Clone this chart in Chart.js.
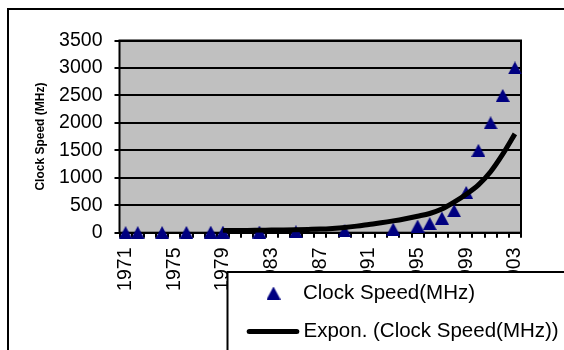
<!DOCTYPE html>
<html>
<head>
<meta charset="utf-8">
<script src="https://cdn.jsdelivr.net/npm/chart.js@4/dist/chart.umd.min.js"></script>
<style>
  html, body { margin: 0; padding: 0; background: #fff; }
  canvas { display: block; }
</style>
</head>
<body>
<canvas id="c" width="564" height="350"></canvas>
<script>
// Years on the category axis (one category per year)
const years = ['1971','1972','1973','1974','1975','1976','1977','1978','1979','1980',
               '1981','1982','1983','1984','1985','1986','1987','1988','1989','1990',
               '1991','1992','1993','1994','1995','1996','1997','1998','1999','2000',
               '2001','2002','2003'];

// Years that carry a visible tick label
const labeledYears = ['1971','1975','1979','1983','1987','1991','1995','1999','2003'];

// Processor clock speed (MHz) by year of introduction; null = no processor that year
const clockSpeed = [1, 1, null, 2, null, 5, null, 10, 10, null,
                    null, 12, null, null, 16, null, null, null, 33, null,
                    null, null, 66, null, 120, 166, 266, 400, 733, 1500,
                    2000, 2500, 3000];

// Exponential trend line values (MHz)
const expTrend = [null, null, null, null, null, null, null, null, 38, 40,
                  42, 45, 48, 51, 55, 60, 66, 78, 95, 120,
                  150, 180, 215, 255, 300, 350, 430, 555, 700, 870,
                  1110, 1430, 1800];

// Value axis ticks
const yTickValues = [0, 500, 1000, 1500, 2000, 2500, 3000, 3500];

const seriesName = 'Clock Speed(MHz)';
const trendName = 'Expon. (Clock Speed(MHz))';
const axisTitle = 'Clock Speed (MHz)';

const FONT = "'Liberation Sans', Arial, sans-serif";
const NAVY = '#000080';

// Triangle marker, centred on its bounding box
function makeTriangle() {
  const c = document.createElement('canvas');
  c.width = 14; c.height = 13;
  const g = c.getContext('2d');
  g.fillStyle = NAVY;
  g.beginPath();
  g.moveTo(7, 0);
  g.lineTo(14, 13);
  g.lineTo(0, 13);
  g.closePath();
  g.fill();
  return c;
}
const triangle = makeTriangle();

const framePlugin = {
  id: 'frame',
  beforeDraw(chart) {
    const { ctx, chartArea: a } = chart;
    ctx.save();
    ctx.fillStyle = '#fff';
    ctx.fillRect(0, 0, chart.width, chart.height);
    // outer chart border (runs off the right and bottom edges)
    ctx.strokeStyle = '#000';
    ctx.lineWidth = 2;
    ctx.strokeRect(8, 9, 700, 500);
    // grey plot area
    ctx.fillStyle = '#c0c0c0';
    ctx.fillRect(a.left, a.top, a.right - a.left, a.bottom - a.top);
    ctx.restore();
  },
  beforeDatasetsDraw(chart) {
    const { ctx, chartArea: a } = chart;
    ctx.save();
    ctx.strokeStyle = '#000';
    ctx.lineWidth = 2;
    ctx.strokeRect(a.left, a.top, a.right - a.left, a.bottom - a.top);
    ctx.restore();
  },
  afterDraw(chart) {
    // legend box, drawn over the lower part of the axis labels
    const { ctx } = chart;
    const ds = chart.data.datasets;
    ctx.save();
    ctx.fillStyle = '#fff';
    ctx.fillRect(227.5, 272, 400, 120);
    ctx.strokeStyle = '#000';
    ctx.lineWidth = 2;
    ctx.strokeRect(227.5, 272, 400, 120);

    ctx.fillStyle = '#000';
    ctx.font = '20.5px ' + FONT;
    ctx.textBaseline = 'middle';
    ctx.textAlign = 'left';

    ctx.drawImage(triangle, 273.5 - 7, 293 - 6.5);
    ctx.fillText(ds[1].label, 303, 293);

    ctx.strokeStyle = '#000';
    ctx.lineWidth = 5;
    ctx.lineCap = 'round';
    ctx.beginPath();
    ctx.moveTo(249.2, 331.5);
    ctx.lineTo(296.8, 331.5);
    ctx.stroke();
    ctx.fillText(ds[0].label, 303.5, 331.5);
    ctx.restore();
  }
};

new Chart(document.getElementById('c'), {
  type: 'line',
  data: {
    labels: years,
    datasets: [
      {
        label: trendName,
        data: expTrend,
        borderColor: '#000',
        borderWidth: 5,
        pointRadius: 0,
        fill: false,
        cubicInterpolationMode: 'monotone',
        spanGaps: false,
        order: 0
      },
      {
        label: seriesName,
        data: clockSpeed,
        showLine: false,
        pointStyle: triangle,
        pointRadius: 7,
        borderWidth: 0,
        clip: false,
        order: 1
      }
    ]
  },
  options: {
    responsive: false,
    animation: false,
    devicePixelRatio: 1,
    events: [],
    layout: { padding: { top: 40.5, right: 43, bottom: 0, left: 0 } },
    plugins: {
      legend: { display: false },
      tooltip: { enabled: false },
      title: { display: false }
    },
    scales: {
      x: {
        type: 'category',
        offset: true,
        afterFit(scale) { scale.height = 117.3; },
        grid: {
          display: true,
          drawOnChartArea: false,
          drawTicks: true,
          tickLength: 5,
          offset: true,
          color: '#000',
          lineWidth: 2
        },
        border: { display: false },
        ticks: {
          autoSkip: false,
          maxRotation: 90,
          minRotation: 90,
          padding: 9.8,
          color: '#000',
          font: { family: FONT, size: 19.5 },
          callback(value, index) {
            const y = years[index];
            return labeledYears.includes(y) ? y : '';
          }
        }
      },
      y: {
        type: 'linear',
        min: 0,
        max: 3500,
        afterFit(scale) { scale.width = 119.5; },
        afterBuildTicks(scale) { scale.ticks = yTickValues.map(v => ({ value: v })); },
        grid: {
          display: true,
          drawOnChartArea: true,
          drawTicks: true,
          tickLength: 5,
          color: '#000',
          lineWidth: 2
        },
        border: { display: false },
        ticks: {
          padding: 12,
          color: '#000',
          font: { family: FONT, size: 19.5 },
          callback(value) { return String(value); }
        },
        title: {
          display: true,
          text: axisTitle,
          color: '#000',
          font: { family: FONT, size: 12, weight: 'bold' },
          padding: { top: 33.8, bottom: 0 }
        }
      }
    }
  },
  plugins: [framePlugin]
});
</script>
</body>
</html>
